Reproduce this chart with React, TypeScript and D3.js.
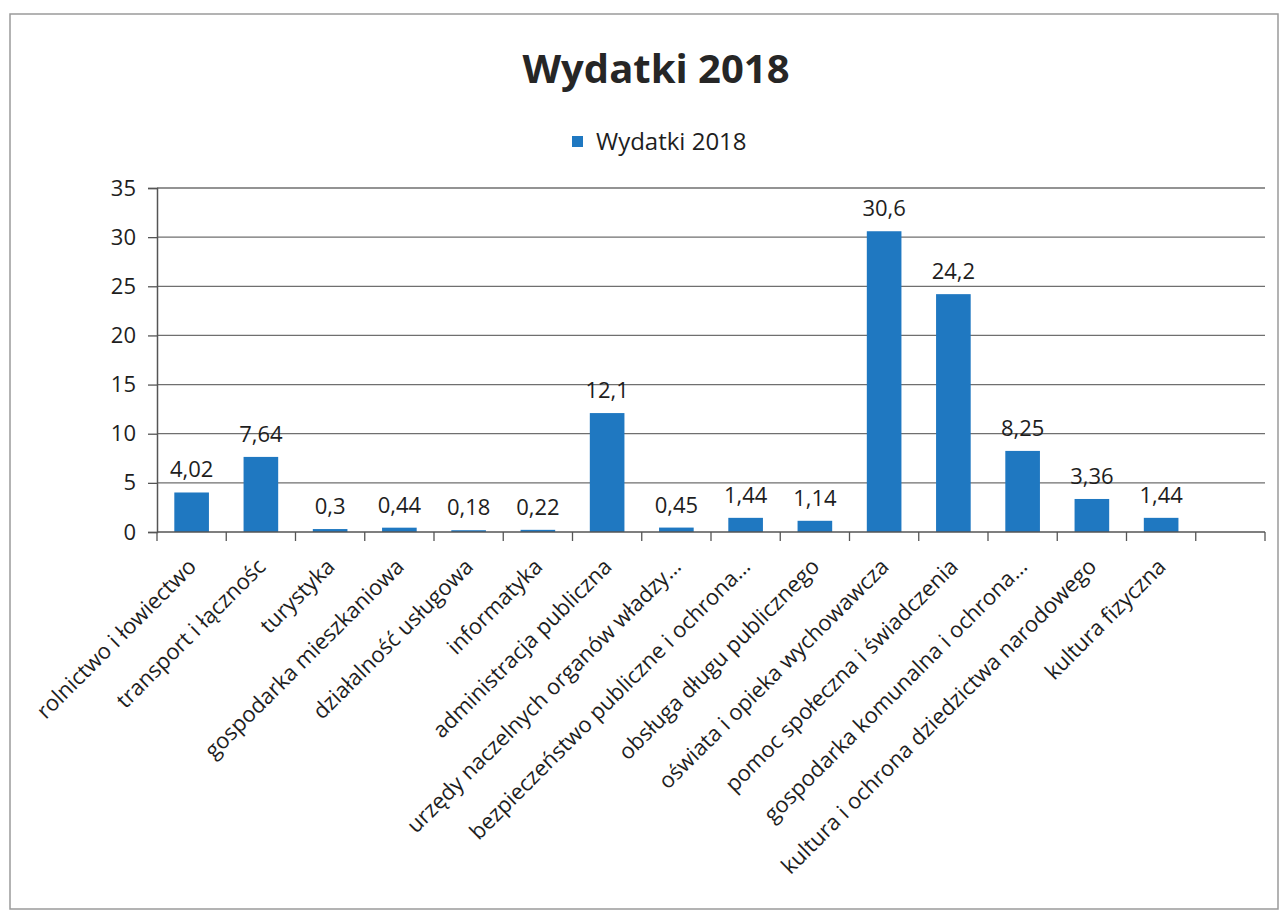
import React, { useEffect, useRef } from "react";
import * as d3 from "d3";

const categories = [
  "rolnictwo i łowiectwo",
  "transport i łącznośc",
  "turystyka",
  "gospodarka mieszkaniowa",
  "działalność usługowa",
  "informatyka",
  "administracja publiczna",
  "urzędy naczelnych organów władzy…",
  "bezpieczeństwo publiczne i ochrona…",
  "obsługa długu publicznego",
  "oświata i opieka wychowawcza",
  "pomoc społeczna i świadczenia",
  "gospodarka komunalna i ochrona…",
  "kultura i ochrona dziedzictwa narodowego",
  "kultura fizyczna",
  "",
];
const values: (number | null)[] = [
  4.02, 7.64, 0.3, 0.44, 0.18, 0.22, 12.1, 0.45, 1.44, 1.14, 30.6, 24.2, 8.25, 3.36, 1.44, null,
];
const labels = [
  "4,02", "7,64", "0,3", "0,44", "0,18", "0,22", "12,1", "0,45", "1,44", "1,14", "30,6", "24,2", "8,25", "3,36", "1,44", "",
];
const yTicks = [0, 5, 10, 15, 20, 25, 30, 35];
const seriesName = "Wydatki 2018";

const W = 1284;
const H = 913;
const FONT = "'Open Sans', sans-serif";
const BLUE = "#1f78c1";
const INK = "#1e1e1e";

export default function App() {
  const ref = useRef<SVGSVGElement>(null);

  useEffect(() => {
    const svg = d3.select(ref.current);
    svg.selectAll("*").remove();

    const left = 157;
    const right = 1265;
    const top = 188;
    const bottom = 532;

    const x = d3.scaleBand<number>()
      .domain(categories.map((_, i) => i))
      .range([left, right])
      .paddingInner(0.5)
      .paddingOuter(0.25);
    const slot = d3.scaleBand<number>()
      .domain(categories.map((_, i) => i))
      .range([left, right]);
    const y = d3.scaleLinear().domain([0, 35]).range([bottom, top]);

    svg.append("rect")
      .attr("x", 0).attr("y", 0).attr("width", W).attr("height", H)
      .attr("fill", "#fff");

    svg.append("rect")
      .attr("x", 10).attr("y", 14).attr("width", 1268).attr("height", 895)
      .attr("fill", "none").attr("stroke", "#9a9a9a").attr("stroke-width", 1.5);

    svg.append("text")
      .attr("x", 656).attr("y", 83)
      .attr("text-anchor", "middle")
      .style("font-family", FONT).style("font-size", "40px").style("font-weight", "bold")
      .attr("fill", "#262626")
      .text("Wydatki 2018");

    const legend = svg.append("g").attr("transform", "translate(572,136)");
    legend.append("rect").attr("width", 11).attr("height", 11).attr("fill", BLUE);
    legend.append("text")
      .attr("x", 24).attr("y", 6).attr("dy", "0.35em")
      .style("font-family", FONT).style("font-size", "24px")
      .attr("fill", INK)
      .text(seriesName);

    // gridlines
    svg.append("g")
      .selectAll("line")
      .data(yTicks.filter(d => d > 0))
      .join("line")
      .attr("x1", left).attr("x2", right)
      .attr("y1", d => y(d)).attr("y2", d => y(d))
      .attr("stroke", "#6f6f6f").attr("stroke-width", 1.3);

    // y axis
    const yAxis = svg.append("g")
      .attr("transform", `translate(${left},0)`)
      .call(d3.axisLeft(y).tickValues(yTicks).tickSize(9).tickPadding(12));
    yAxis.select(".domain").attr("stroke", "#555").attr("stroke-width", 1.5);
    yAxis.selectAll(".tick line").attr("stroke", "#555").attr("stroke-width", 1.3);
    yAxis.selectAll("text")
      .style("font-family", FONT).style("font-size", "22px").attr("fill", INK);

    // bars
    svg.append("g")
      .selectAll("rect")
      .data(values.map((v, i) => ({ v, i })).filter(d => d.v !== null))
      .join("rect")
      .attr("x", d => x(d.i)!)
      .attr("width", x.bandwidth())
      .attr("y", d => y(d.v as number))
      .attr("height", d => bottom - y(d.v as number))
      .attr("fill", BLUE);

    // x axis line + ticks at slot boundaries
    svg.append("line")
      .attr("x1", left).attr("x2", right)
      .attr("y1", bottom).attr("y2", bottom)
      .attr("stroke", "#555").attr("stroke-width", 1.5);
    svg.append("g")
      .selectAll("line")
      .data(d3.range(categories.length + 1))
      .join("line")
      .attr("x1", i => left + i * slot.step())
      .attr("x2", i => left + i * slot.step())
      .attr("y1", bottom).attr("y2", bottom + 9)
      .attr("stroke", "#555").attr("stroke-width", 1.3);

    // data labels
    svg.append("g")
      .selectAll("text")
      .data(values.map((v, i) => ({ v, i })).filter(d => d.v !== null))
      .join("text")
      .attr("x", d => x(d.i)! + x.bandwidth() / 2)
      .attr("y", d => y(d.v as number) - 15)
      .attr("text-anchor", "middle")
      .style("font-family", FONT).style("font-size", "22px")
      .attr("fill", INK)
      .text(d => labels[d.i]);

    // category labels
    svg.append("g")
      .selectAll("text")
      .data(categories.map((c, i) => ({ c, i })))
      .join("text")
      .attr("transform", d => `translate(${slot(d.i)! + slot.bandwidth() / 2 + 6},${bottom + 36}) rotate(-45)`)
      .attr("text-anchor", "end")
      .style("font-family", FONT).style("font-size", "22px")
      .attr("fill", INK)
      .text(d => d.c);
  }, []);

  return (
    <svg
      ref={ref}
      width={W}
      height={H}
      style={{ position: "absolute", left: 0, top: 0 }}
    />
  );
}
